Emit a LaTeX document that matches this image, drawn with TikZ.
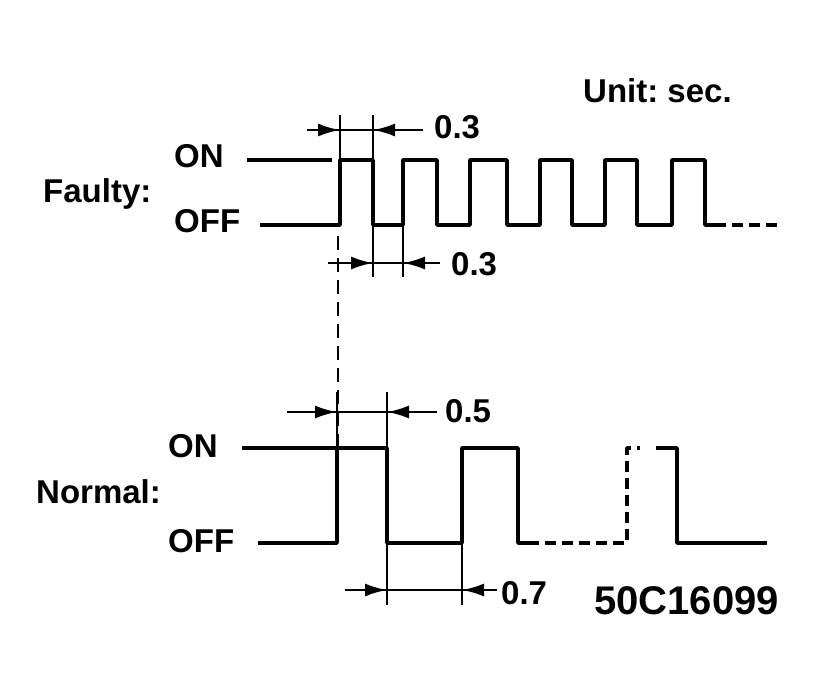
\documentclass[tikz,border=0pt]{standalone}
\usepackage{fontspec}
\setmainfont{Liberation Sans}
\usepackage{tikz}
\usetikzlibrary{calc}
\usetikzlibrary{positioning}
\usetikzlibrary{arrows.meta}

\begin{document}
\begin{tikzpicture}[x=1pt,y=-1pt,every node/.style = {inner sep=0pt,anchor=base west,font=\bfseries\fontsize{33}{33}\selectfont},
    wave/.style = {line width=3.4pt,line join=round},
    dashwave/.style = {wave,dash pattern=on 11pt off 6pt},
    dim/.style = {line width=2.4pt},
    tip/.style = {dim,-{Latex[length=22pt,width=13pt]}}]
\useasboundingbox (0,0) rectangle (820,694);
\node (unit) at (583,102) {Unit:\ sec.};
\node (faulty) at (43,202) {Faulty:};
\node (fon) at (174,167) {ON};
\node (foff) at (174,232) {OFF};
\node (normal) at (36,503) {Normal:};
\node (non) at (168,457) {ON};
\node (noff) at (168,552) {OFF};
\node (t1) at (434,138) {0.3};
\node (t2) at (451,275) {0.3};
\node (t3) at (445,422) {0.5};
\node (t4) at (501,604) {0.7};
\node[font=\bfseries\fontsize{40}{40}\selectfont] (code) at (594,614) {50C16099};
\draw[wave] (247,160) -- (332,160);
\draw[wave] (260,225) -- (340,225) -- (340,160) -- (373,160) -- (373,225) -- (403,225) -- (403,160) -- (437,160) -- (437,225)
    -- (470,225) -- (470,160) -- (507,160) -- (507,225) -- (540,225) -- (540,160) -- (572,160) -- (572,225)
    -- (605,225) -- (605,160) -- (637,160) -- (637,225) -- (672,225) -- (672,160) -- (705,160) -- (705,225) -- (715,225);
\draw[dashwave] (715,225) -- (780,225);
\draw[dim] (340,115) -- (340,160);
\draw[dim] (373,115) -- (373,160);
\draw[dim] (307,130) -- (423,130);
\draw[tip] (307,130) -- (340,130);
\draw[tip] (423,130) -- (373,130);
\draw[dim] (373,225) -- (373,277);
\draw[dim] (403,225) -- (403,277);
\draw[dim] (328,263) -- (440,263);
\draw[tip] (328,263) -- (373,263);
\draw[tip] (440,263) -- (403,263);
\draw[dim,dash pattern=on 14pt off 8pt] (338,236) -- (338,446);
\draw[wave] (242,448) -- (337,448);
\draw[wave] (258,543) -- (337,543) -- (337,448) -- (387,448) -- (387,543) -- (462,543) -- (462,448) -- (518,448) -- (518,543) -- (528,543);
\draw[dashwave] (528,543) -- (627,543) -- (627,448) -- (640,448);
\draw[wave] (656,448) -- (677,448) -- (677,543) -- (767,543);
\draw[dim] (337,392) -- (337,448);
\draw[dim] (387,392) -- (387,448);
\draw[dim] (287,412) -- (437,412);
\draw[tip] (287,412) -- (337,412);
\draw[tip] (437,412) -- (387,412);
\draw[dim] (387,543) -- (387,605);
\draw[dim] (462,543) -- (462,605);
\draw[dim] (345,590) -- (497,590);
\draw[tip] (345,590) -- (387,590);
\draw[tip] (497,590) -- (462,590);
\end{tikzpicture}
\end{document}
